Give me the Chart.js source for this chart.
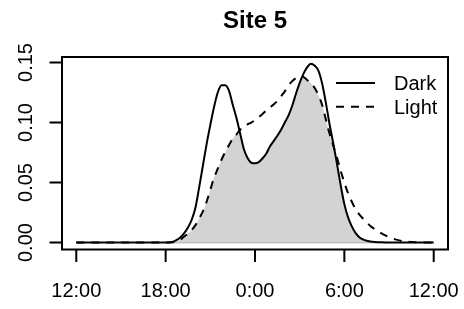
<!DOCTYPE html>
<html><head><meta charset="utf-8">
<script src="https://cdn.jsdelivr.net/npm/chart.js@4"></script>
<style>html,body{margin:0;padding:0;background:#fff}canvas{display:block}</style>
</head><body>
<canvas id="c" width="464" height="309"></canvas>
<script>
const titleText = 'Site 5';
const seriesNames = ['Dark', 'Light'];
// hours since 12:00 (noon)
const hours = [0,1,2,3,4,5,6,
  6.25,6.5,6.75,7,7.25,7.5,7.75,8,8.25,8.5,8.75,9,9.25,9.5,9.75,10,
  10.25,10.5,10.75,11,11.25,11.5,11.75,12,12.25,12.5,12.75,13,13.25,13.5,13.75,14,
  14.25,14.5,14.75,15,15.25,15.5,15.75,16,16.25,16.5,16.75,17,17.25,17.5,17.75,18,
  18.25,18.5,18.75,19,19.25,19.5,19.75,20,20.25,20.5,20.75,21,21.5,22,22.5,23,24];
const dark = [0,0,0,0,0,0,0,
  0.0002,0.0008,0.0022,0.0045,0.0078,0.0125,0.019,0.029,0.046,0.064,0.082,0.098,0.113,0.125,0.131,0.131,
  0.1265,0.115,0.104,0.091,0.078,0.0705,0.0665,0.066,0.067,0.070,0.074,0.080,0.0845,0.089,0.094,0.100,
  0.106,0.114,0.124,0.133,0.1405,0.146,0.149,0.1475,0.1435,0.133,0.117,0.099,0.083,0.066,0.048,0.032,
  0.021,0.0135,0.008,0.0045,0.0026,0.0015,0.0009,0.0005,0.0003,0.0002,0.0001,0,0,0,0,0,0];
const light = [0,0,0,0,0,0,0,
  0.0001,0.0003,0.001,0.0025,0.005,0.0075,0.0105,0.0145,0.020,0.026,0.034,0.044,0.054,0.0615,0.069,0.0755,
  0.081,0.0865,0.090,0.094,0.0965,0.0985,0.100,0.102,0.1045,0.107,0.110,0.1125,0.115,0.118,0.122,0.126,
  0.131,0.1345,0.137,0.1385,0.138,0.1355,0.133,0.129,0.123,0.115,0.103,0.091,0.081,0.071,0.060,0.050,
  0.041,0.034,0.028,0.0235,0.020,0.0168,0.0138,0.0115,0.0095,0.0076,0.006,0.0046,0.0024,0.001,0.0004,0.0001,0];
const xTickValues = [0, 6, 12, 18, 24];
const xTickLabels = ['12:00', '18:00', '0:00', '6:00', '12:00'];
const yTickValues = [0, 0.05, 0.10, 0.15];
const yTickLabels = ['0.00', '0.05', '0.10', '0.15'];

const overlap = dark.map((d, i) => Math.min(d, light[i]));
const pts = arr => hours.map((h, i) => ({x: h, y: arr[i]}));
const FONT = '"Liberation Sans", Arial, Helvetica, sans-serif';

const rStyle = {
  id: 'rStyle',
  beforeDatasetsDraw(chart) {
    // grey polygon edge along the baseline of the overlap area
    const ctx = chart.ctx, xs = chart.scales.x, ys = chart.scales.y;
    const idx = overlap.map((v, i) => v > 0 ? i : -1).filter(i => i >= 0);
    if (!idx.length) return;
    const x0 = xs.getPixelForValue(hours[idx[0] - 1]), x1 = xs.getPixelForValue(hours[idx[idx.length - 1] + 1]);
    const y0 = ys.getPixelForValue(0);
    ctx.save(); ctx.strokeStyle = '#a0a0a0'; ctx.lineWidth = 1.5;
    ctx.beginPath(); ctx.moveTo(x0, y0); ctx.lineTo(x1, y0); ctx.stroke(); ctx.restore();
  },
  afterDraw(chart) {
    const ctx = chart.ctx, a = chart.chartArea, xs = chart.scales.x, ys = chart.scales.y;
    ctx.save();
    ctx.strokeStyle = '#000'; ctx.lineWidth = 2; ctx.setLineDash([]);
    ctx.strokeRect(a.left, a.top, a.right - a.left, a.bottom - a.top);
    ctx.beginPath();
    xTickValues.forEach(v => { const p = xs.getPixelForValue(v); ctx.moveTo(p, a.bottom); ctx.lineTo(p, a.bottom + 12.5); });
    yTickValues.forEach(v => { const p = ys.getPixelForValue(v); ctx.moveTo(a.left, p); ctx.lineTo(a.left - 12.5, p); });
    ctx.stroke();
    ctx.fillStyle = '#000';
    ctx.font = '20px ' + FONT; ctx.textAlign = 'center'; ctx.textBaseline = 'alphabetic';
    xTickValues.forEach((v, i) => ctx.fillText(xTickLabels[i], xs.getPixelForValue(v), a.bottom + 47));
    yTickValues.forEach((v, i) => {
      ctx.save(); ctx.translate(a.left - 30.5, ys.getPixelForValue(v)); ctx.rotate(-Math.PI / 2);
      ctx.fillText(yTickLabels[i], 0, 0); ctx.restore();
    });
    ctx.font = 'bold 24px ' + FONT;
    ctx.fillText(titleText, (a.left + a.right) / 2, 28);
    // legend
    const rows = [a.top + 26, a.top + 49.7];
    const dsets = chart.data.datasets.filter(d => seriesNames.includes(d.label));
    ctx.font = '20px ' + FONT; ctx.textAlign = 'left';
    dsets.forEach((d, i) => {
      const y = rows[i];
      ctx.beginPath(); ctx.lineWidth = d.borderWidth; ctx.setLineDash(d.borderDash || []);
      ctx.moveTo(a.right - 112, y); ctx.lineTo(a.right - 73, y); ctx.stroke();
      ctx.setLineDash([]);
      ctx.fillText(d.label, a.right - 54, y + 7);
    });
    ctx.restore();
  }
};

new Chart(document.getElementById('c'), {
  type: 'line',
  data: {
    datasets: [
      {label: seriesNames[0], data: pts(dark), borderColor: '#000', borderWidth: 2, pointRadius: 0,
       fill: false, cubicInterpolationMode: 'monotone', order: 1},
      {label: seriesNames[1], data: pts(light), borderColor: '#000', borderWidth: 2, borderDash: [8, 7],
       pointRadius: 0, fill: false, cubicInterpolationMode: 'monotone', order: 2},
      {label: 'overlap', data: pts(overlap), borderWidth: 0, borderColor: 'rgba(0,0,0,0)',
       backgroundColor: '#d3d3d3', pointRadius: 0, fill: 'origin', cubicInterpolationMode: 'monotone', order: 3}
    ]
  },
  options: {
    responsive: false, animation: false, devicePixelRatio: 1,
    layout: {padding: {left: 62, top: 57, right: 16, bottom: 59.5}},
    plugins: {legend: {display: false}, title: {display: false}, tooltip: {enabled: false}},
    scales: {
      x: {type: 'linear', display: false, min: -0.96, max: 24.96},
      y: {type: 'linear', display: false, min: -0.0058, max: 0.1546}
    }
  },
  plugins: [rStyle]
});
</script>
</body></html>
